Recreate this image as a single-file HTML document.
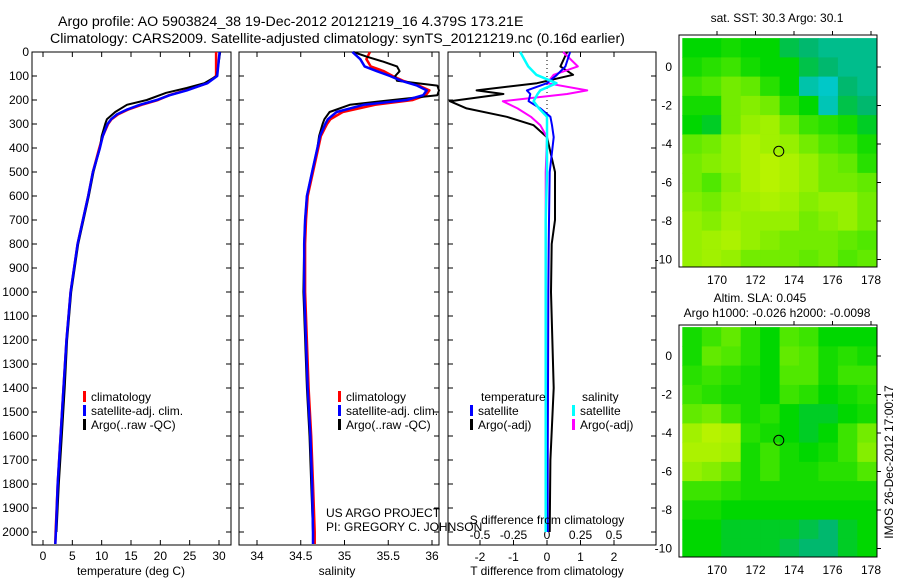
<!DOCTYPE html>
<html><head><meta charset="utf-8">
<style>
html,body{margin:0;padding:0;background:#fff;}
svg{display:block;font-family:"Liberation Sans",sans-serif;}
text{font-size:12px;fill:#000;}
</style></head>
<body>
<svg id="fig" width="900" height="580" viewBox="0 0 900 580" xmlns="http://www.w3.org/2000/svg">
<text x="58" y="26" style="font-size:14.2px">Argo profile: AO 5903824_38 19-Dec-2012 20121219_16 4.379S 173.21E</text>
<text x="50" y="43" style="font-size:14.2px">Climatology: CARS2009. Satellite-adjusted climatology: synTS_20121219.nc (0.16d earlier)</text>
<g id="g1"></g>
<g id="g2"></g>
<g id="g3"></g>
<g id="m1"></g>
<g id="m2"></g>
<text x="777" y="22" text-anchor="middle">sat. SST: 30.3 Argo: 30.1</text>
<text x="760" y="302" text-anchor="middle">Altim. SLA: 0.045</text>
<text x="777" y="317" text-anchor="middle">Argo h1000: -0.026 h2000: -0.0098</text>
<text transform="translate(893,462) rotate(-90)" text-anchor="middle">IMOS 26-Dec-2012 17:00:17</text>
<text x="326" y="517">US ARGO PROJECT</text>
<text x="326" y="531">PI: GREGORY C. JOHNSON</text>
</svg>
<script>
// ---- profile data ----
const depthT = [0,100,130,160,180,200,220,240,260,280,300,350,400,500,600,700,800,900,1000,1200,1400,1600,1800,2000,2050];
const tempClim = [29.5,29.5,28,24.3,21.5,19.6,16.8,14.5,12.8,11.7,11.1,10.2,9.6,8.5,7.7,6.8,5.9,5.3,4.7,4.0,3.5,3.0,2.5,2.15,2.1];
const tempSat  = [30.1,29.7,28,24.5,21.6,19.4,16.5,14.3,12.6,11.6,11.0,10.2,9.7,8.5,7.7,6.8,5.9,5.3,4.7,4.0,3.5,3.0,2.5,2.2,2.1];
const depthA = [0,100,130,150,170,200,220,250,280,300,350,400,500,600,700,800,900,1000,1200,1400,1600,1800,2000];
const tempArgo = [30.2,29.6,27.5,24.5,21.0,17.7,14.3,12.3,10.9,10.6,10.0,9.7,8.6,7.8,6.9,6.0,5.4,4.8,4.1,3.7,3.2,2.7,2.3];

const depthS = [0,30,60,80,100,120,140,160,180,200,220,250,280,300,350,400,500,600,700,800,1000,1400,1600,1800,2000,2050];
const salClim = [35.29,35.25,35.3,35.45,35.55,35.67,35.85,35.97,35.93,35.78,35.35,34.98,34.84,34.8,34.73,34.7,34.64,34.58,34.56,34.55,34.55,34.59,34.62,34.64,34.66,34.66];
const salSat  = [35.09,35.18,35.23,35.37,35.52,35.65,35.83,35.94,35.9,35.71,35.22,34.91,34.81,34.78,34.72,34.69,34.63,34.57,34.55,34.54,34.54,34.58,34.61,34.63,34.64,34.64];
const depthSA = [0,20,40,60,80,100,120,140,160,180,200,220,250,280,300,350,400,500,600,700,800,1000,1400,1600,1800,2000];
const salArgo = [35.1,35.26,35.44,35.6,35.63,35.58,35.6,36.06,36.08,36.06,35.55,35.06,34.83,34.77,34.75,34.71,34.69,34.63,34.57,34.55,34.54,34.53,34.57,34.6,34.62,34.64];

const depthD = [0,60,95,130,160,175,205,235,270,305,355,500,700,800,1000,1400,1700,2000];
const dTArgo = [0.6,0.4,0.78,-0.3,-2.1,-1.3,-2.9,-2.4,-1.2,-0.4,0.0,0.24,0.24,0.14,0.12,0.2,0.1,0.08];
const dTSat  = [0.69,0.55,0.3,0.0,-0.6,-0.5,-0.55,-0.2,0.1,0.15,0.2,0.08,0.06,0.05,0.04,0.03,0.02,0.02];
const dSArgo = [0.12,0.23,0.05,0.0,0.3,0.15,-0.33,-0.22,-0.12,-0.05,0.0,-0.01,-0.01,-0.01,-0.01,-0.01,-0.01,-0.01];
const dSSat  = [-0.2,-0.14,-0.08,0.07,-0.05,-0.07,-0.1,-0.06,0.0,0.0,0.0,0.0,-0.01,-0.01,-0.01,-0.01,-0.01,-0.01];

// ---- tick labels ----
const depthTicks = [0,100,200,300,400,500,600,700,800,900,1000,1100,1200,1300,1400,1500,1600,1700,1800,1900,2000];
const tempTicks = [0,5,10,15,20,25,30];
const salTicks = [34,34.5,35,35.5,36];
const salTickLabels = ["34","34.5","35","35.5","36"];
const dTTicks = [-2,-1,0,1,2];
const dSTicks = [-0.5,-0.25,0,0.25,0.5];
const dSTickLabels = ["-0.5","-0.25","0","0.25","0.5"];
const mapLonTicks = [170,172,174,176,178];
const mapLatTicks = [0,-2,-4,-6,-8,-10];

// ---- map data (rows: lat 1.5 -> -10.5, 1 deg; cols lon 168.2 -> 178.3) ----
const sstGrid = [
[0.3,0.3,0.35,0.3,0.3,0.2,0.15,0.1,0.1,0.1],
[0.35,0.4,0.45,0.35,0.3,0.3,0.2,0.15,0.1,0.1],
[0.45,0.5,0.6,0.55,0.4,0.3,0.05,0.0,0.15,0.1],
[0.35,0.35,0.6,0.65,0.6,0.4,0.3,0.03,0.2,0.15],
[0.3,0.25,0.6,0.7,0.75,0.6,0.45,0.4,0.35,0.25],
[0.55,0.6,0.7,0.8,0.75,0.7,0.6,0.5,0.45,0.35],
[0.6,0.65,0.7,0.8,0.85,0.8,0.7,0.6,0.55,0.4],
[0.6,0.5,0.65,0.8,0.85,0.8,0.7,0.6,0.6,0.55],
[0.65,0.6,0.7,0.75,0.8,0.75,0.65,0.7,0.7,0.6],
[0.7,0.65,0.75,0.7,0.7,0.7,0.6,0.65,0.7,0.6],
[0.7,0.75,0.8,0.7,0.65,0.6,0.6,0.6,0.55,0.5],
[0.7,0.75,0.7,0.6,0.6,0.6,0.55,0.6,0.5,0.55]];
const slaGrid = [
[0.35,0.45,0.55,0.4,0.3,0.5,0.45,0.3,0.3,0.3],
[0.35,0.55,0.5,0.4,0.3,0.55,0.5,0.35,0.4,0.35],
[0.4,0.45,0.4,0.35,0.3,0.5,0.5,0.35,0.45,0.45],
[0.45,0.4,0.35,0.35,0.3,0.45,0.4,0.3,0.35,0.4],
[0.55,0.6,0.45,0.35,0.4,0.3,0.25,0.25,0.3,0.35],
[0.75,0.85,0.8,0.4,0.35,0.3,0.25,0.3,0.45,0.6],
[0.8,0.8,0.75,0.35,0.45,0.35,0.3,0.35,0.45,0.65],
[0.7,0.65,0.55,0.35,0.45,0.35,0.35,0.4,0.4,0.5],
[0.45,0.45,0.4,0.35,0.35,0.35,0.35,0.35,0.35,0.35],
[0.35,0.35,0.3,0.3,0.3,0.3,0.3,0.3,0.3,0.3],
[0.3,0.3,0.25,0.25,0.25,0.25,0.2,0.15,0.25,0.3],
[0.3,0.3,0.25,0.25,0.25,0.2,0.15,0.15,0.25,0.3]];
const argoLon = [173.21];
const argoLat = [-4.379];

const NS = "http://www.w3.org/2000/svg";
function mk(parent, tag, attrs){ const e=document.createElementNS(NS,tag); for(const k in attrs) e.setAttribute(k,attrs[k]); parent.appendChild(e); return e; }
function lin(d0,d1,r0,r1){ return v => r0 + (v-d0)*(r1-r0)/(d1-d0); }

const yD = lin(0,2000,52,532);
const TOP=52, BOT=545;

function frame(g, x0, x1, xs, xticks, xlabels, showDepthLabels){
  const r = mk(g,'rect',{x:x0,y:TOP,width:x1-x0,height:BOT-TOP,fill:'none',stroke:'#000','stroke-width':1});
  
  
  depthTicks.forEach(d=>{
    const y=yD(d);
    mk(g,'line',{x1:x0,x2:x0+5,y1:y,y2:y,stroke:'#000'});
    mk(g,'line',{x1:x1,x2:x1-5,y1:y,y2:y,stroke:'#000'});
    if(showDepthLabels){
      const t=mk(g,'text',{x:x0-3,y:y+4,'text-anchor':'end'}); t.textContent=d;
      
      
    }
  });
  if(xticks){
    xticks.forEach((v,i)=>{
      const x=xs(v);
      mk(g,'line',{x1:x,x2:x,y1:TOP,y2:TOP+5,stroke:'#000'});
      mk(g,'line',{x1:x,x2:x,y1:BOT,y2:BOT-5,stroke:'#000'});
      const t=mk(g,'text',{x:x,y:BOT+15,'text-anchor':'middle'}); t.textContent=xlabels[i];
      
      
    });
  }
}
function line(g, xs, xv, dv, color, w, name){
  const pts = xv.map((v,i)=>xs(v).toFixed(1)+','+yD(dv[i]).toFixed(1)).join(' ');
  const p = mk(g,'polyline',{points:pts,fill:'none',stroke:color,'stroke-width':w,'stroke-linejoin':'round'});
  
  
}
function legend(g, x, y, color, label, name){
  mk(g,'rect',{x:x,y:y-10,width:3,height:11,fill:color});
  const t=mk(g,'text',{x:x+8,y:y}); t.textContent=label;
  
  
}

// Panel 1
const g1=document.getElementById('g1');
const xT = lin(0,30,43,219);
frame(g1,32,231,xT,tempTicks,tempTicks.map(String),true);
line(g1,xT,tempClim,depthT,'#ff0000',2.5,'temperature-climatology-line');
line(g1,xT,tempArgo,depthA,'#000000',2,'temperature-argo-line');
line(g1,xT,tempSat,depthT,'#0000ff',2.5,'temperature-satellite-line');
legend(g1,83,401,'#ff0000','climatology','legend-climatology');
legend(g1,83,415,'#0000ff','satellite-adj. clim.','legend-satellite-adj');
legend(g1,83,429,'#000000','Argo(..raw -QC)','legend-argo');
{const t=mk(g1,'text',{x:131,y:575,'text-anchor':'middle'}); t.textContent='temperature (deg C)';
 }

// Panel 2
const g2=document.getElementById('g2');
const xS = lin(34,36,257,432);
frame(g2,239,439,xS,salTicks,salTickLabels,false);
line(g2,xS,salClim,depthS,'#ff0000',2.5,'salinity-climatology-line');
line(g2,xS,salArgo,depthSA,'#000000',2,'salinity-argo-line');
line(g2,xS,salSat,depthS,'#0000ff',2.5,'salinity-satellite-line');
legend(g2,338,401,'#ff0000','climatology','legend-climatology');
legend(g2,338,415,'#0000ff','satellite-adj. clim.','legend-satellite-adj');
legend(g2,338,429,'#000000','Argo(..raw -QC)','legend-argo');
{const t=mk(g2,'text',{x:337,y:575,'text-anchor':'middle'}); t.textContent='salinity';
 }

// Panel 3
const g3=document.getElementById('g3');
const xDT = lin(-2,2,480,614);
const xDS = lin(-0.5,0.5,480,614);
frame(g3,448,656,null,null,null,false);
dTTicks.forEach(v=>{const x=xDT(v);
  mk(g3,'line',{x1:x,x2:x,y1:TOP,y2:TOP+5,stroke:'#000'});
  mk(g3,'line',{x1:x,x2:x,y1:BOT,y2:BOT-5,stroke:'#000'});
  const t=mk(g3,'text',{x:x,y:BOT+16,'text-anchor':'middle'}); t.textContent=v;
   });
dSTicks.forEach((v,i)=>{const x=xDS(v);
  const t=mk(g3,'text',{x:x,y:539,'text-anchor':'middle'}); t.textContent=dSTickLabels[i];
   });
mk(g3,'line',{x1:xDT(0),x2:xDT(0),y1:TOP,y2:yD(300),stroke:'#000','stroke-dasharray':'1,3'});
line(g3,xDT,dTArgo,depthD,'#000000',2,'t-diff-argo-line');
line(g3,xDS,dSArgo,depthD,'#ff00ff',2,'s-diff-argo-line');
line(g3,xDT,dTSat,depthD,'#0000ff',2,'t-diff-satellite-line');
line(g3,xDS,dSSat,depthD,'#00ffff',2.5,'s-diff-satellite-line');
{const t=mk(g3,'text',{x:481,y:401}); t.textContent='temperature';
 }
{const t=mk(g3,'text',{x:582,y:401}); t.textContent='salinity';
 }
legend(g3,470,415,'#0000ff','satellite','legend-t-satellite');
legend(g3,470,429,'#000000','Argo(-adj)','legend-t-argo');
legend(g3,572,415,'#00ffff','satellite','legend-s-satellite');
legend(g3,572,429,'#ff00ff','Argo(-adj)','legend-s-argo');
{const t=mk(g3,'text',{x:547,y:524,'text-anchor':'middle'}); t.textContent='S difference from climatology';
 }
{const t=mk(g3,'text',{x:547,y:575,'text-anchor':'middle'}); t.textContent='T difference from climatology';
 }

// Maps
const stops=[[0,[0,200,200]],[0.15,[0,184,110]],[0.3,[0,215,0]],[0.5,[80,232,0]],[0.7,[150,240,0]],[1,[215,245,0]]];
function cmap(v){
  for(let i=1;i<stops.length;i++){ if(v<=stops[i][0]){const a=stops[i-1],b=stops[i];const f=(v-a[0])/(b[0]-a[0]);
    return 'rgb('+a[1].map((c,k)=>Math.round(c+(b[1][k]-c)*f)).join(',')+')';}}
  return 'rgb(215,245,0)';
}
function drawMap(id, grid, x0,x1,y0,y1, lat0px){
  const g=document.getElementById(id);
  const xL = lin(170,178,717,871);
  const yL = lin(0,-10,lat0px,lat0px+192.5);
  const lonEdges0=168.2, latTop=1.5;
  grid.forEach((row,r)=>row.forEach((v,c)=>{
    const la=latTop-r, lo=lonEdges0+c*1.01;
    const xa=Math.max(x0,xL(lo)), xb=Math.min(x1,xL(lo+1.01));
    const ya=Math.max(y0,yL(la)), yb=Math.min(y1,yL(la-1));
    const cell=mk(g,'rect',{x:xa.toFixed(1),y:ya.toFixed(1),width:(xb-xa+0.5).toFixed(1),height:(yb-ya+0.5).toFixed(1),fill:cmap(v)});
    
    
  }));
  const fr=mk(g,'rect',{x:x0,y:y0,width:x1-x0,height:y1-y0,fill:'none',stroke:'#000'});
   
  mapLonTicks.forEach(v=>{const x=xL(v);
    mk(g,'line',{x1:x,x2:x,y1:y0,y2:y0-4,stroke:'#000'});
    const t=mk(g,'text',{x:x,y:y1+17,'text-anchor':'middle'}); t.textContent=v;
     });
  mapLatTicks.forEach(v=>{const y=yL(v);
    mk(g,'line',{x1:x1,x2:x1+4,y1:y,y2:y,stroke:'#000'});
    const t=mk(g,'text',{x:x0-7,y:y+4,'text-anchor':'end'}); t.textContent=v;
     });
  const c=mk(g,'circle',{cx:xL(argoLon[0]),cy:yL(argoLat[0]),r:5,fill:'none',stroke:'#000'});
   
}
drawMap('m1',sstGrid,679,877,35,267,67);
drawMap('m2',slaGrid,679,877,325,557,356);
</script>
</body></html>
